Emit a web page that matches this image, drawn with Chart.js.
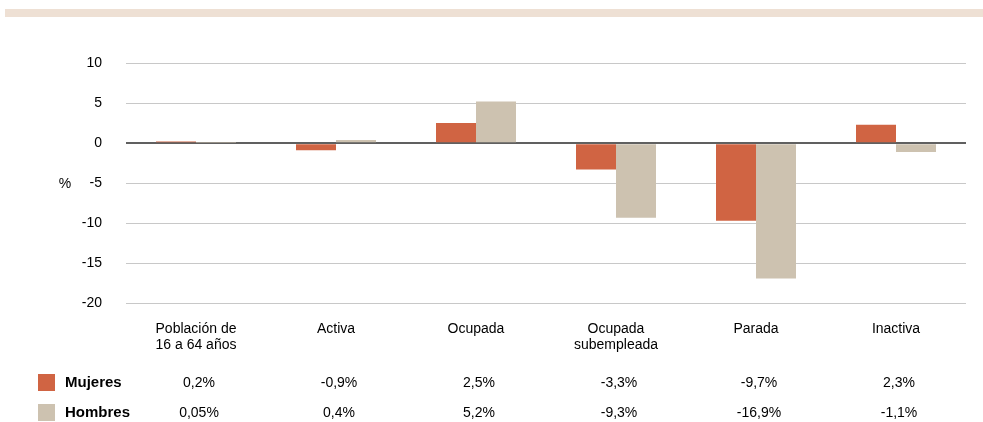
<!DOCTYPE html>
<html>
<head>
<meta charset="utf-8">
<script src="https://cdn.jsdelivr.net/npm/chart.js@4"></script>
<style>
    html, body { margin: 0; padding: 0; background: #ffffff; }
    #wrap { position: relative; width: 983px; height: 422px; }
    #band { position: absolute; left: 5px; top: 9px; width: 978px; height: 8px; background: #eee0d4; }
    #chart { position: absolute; left: 0; top: 0; }
</style>
</head>
<body>
<div id="wrap">
    <div id="band"></div>
    <canvas id="chart" width="983" height="422"></canvas>
</div>
<script>
// categories and series
const categories = [
    ["Población de", "16 a 64 años"],
    "Activa",
    "Ocupada",
    ["Ocupada", "subempleada"],
    "Parada",
    "Inactiva"
];
const mujeres = [0.2, -0.9, 2.5, -3.3, -9.7, 2.3];
const hombres = [0.05, 0.4, 5.2, -9.3, -16.9, -1.1];
const yTicks = [10, 5, 0, -5, -10, -15, -20];

const colMujeres = "#d06443";
const colHombres = "#cdc2b0";
const fontName = "'Liberation Sans', Arial, sans-serif";

function fmt(v) {
    return String(v).replace(".", ",") + "%";
}

// data table + "%" label under / beside the chart
const tablePlugin = {
    id: "tablePlugin",
    afterDraw(chart) {
        const ctx = chart.ctx;
        const x = chart.scales.x;
        const area = chart.chartArea;
        ctx.save();

        ctx.fillStyle = "#000";
        ctx.font = "14px " + fontName;
        ctx.textAlign = "center";
        ctx.textBaseline = "middle";
        ctx.fillText("%", 65, (area.top + area.bottom) / 2 + 1);

        const rows = [
            { name: "Mujeres", color: colMujeres, values: mujeres, y: 383 },
            { name: "Hombres", color: colHombres, values: hombres, y: 413 }
        ];
        rows.forEach(function (row) {
            ctx.fillStyle = row.color;
            ctx.fillRect(38, row.y - 9, 17, 17);
            ctx.fillStyle = "#000";
            ctx.textAlign = "left";
            ctx.font = "bold 15px " + fontName;
            ctx.fillText(row.name, 65, row.y);
            ctx.textAlign = "center";
            ctx.font = "14px " + fontName;
            row.values.forEach(function (v, i) {
                ctx.fillText(fmt(v), x.getPixelForValue(i) + 3, row.y);
            });
        });
        ctx.restore();
    }
};

new Chart(document.getElementById("chart"), {
    type: "bar",
    data: {
        labels: categories,
        datasets: [
            { label: "Mujeres", data: mujeres, backgroundColor: colMujeres },
            { label: "Hombres", data: hombres, backgroundColor: colHombres }
        ]
    },
    options: {
        responsive: false,
        animation: false,
        categoryPercentage: 80 / 140,
        barPercentage: 1,
        layout: { padding: { left: 0, right: 17, top: 63, bottom: 59 } },
        plugins: {
            legend: { display: false },
            tooltip: { enabled: false }
        },
        scales: {
            x: {
                grid: { display: false },
                border: { display: false },
                ticks: {
                    color: "#000",
                    font: { family: fontName, size: 14, lineHeight: 1.2 },
                    padding: 9,
                    maxRotation: 0
                }
            },
            y: {
                min: -20,
                max: 10,
                afterFit(scale) { scale.width = 126; },
                afterBuildTicks(scale) {
                    scale.ticks = yTicks.map(v => ({ value: v }));
                },
                border: { display: false },
                grid: {
                    color: ctx => ctx.tick && ctx.tick.value === 0 ? "#606060" : "#c8c8c8",
                    lineWidth: ctx => ctx.tick && ctx.tick.value === 0 ? 2 : 1,
                    drawTicks: false
                },
                ticks: {
                    color: "#000",
                    font: { family: fontName, size: 14 },
                    padding: 24
                }
            }
        }
    },
    plugins: [tablePlugin]
});
</script>
</body>
</html>
